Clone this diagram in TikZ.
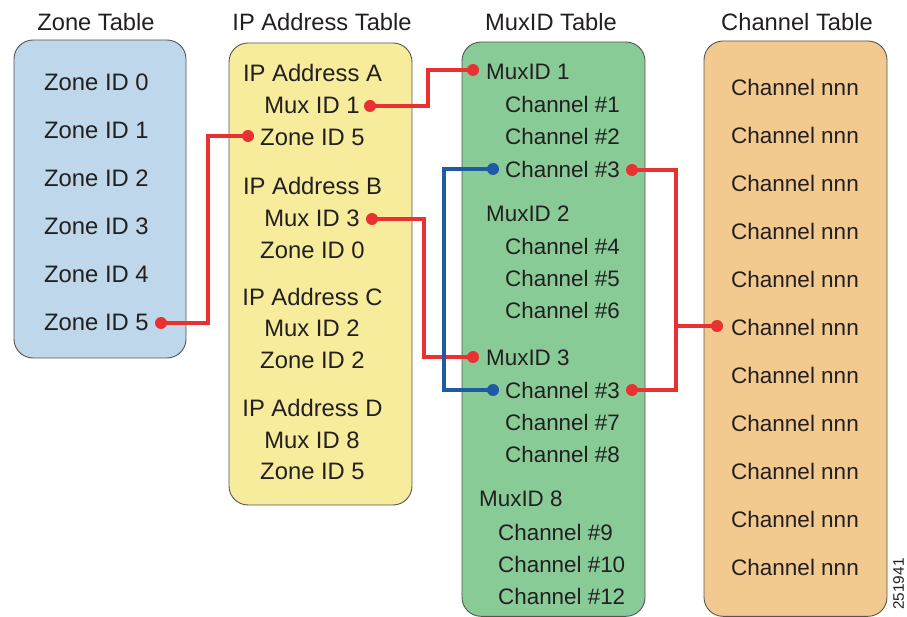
\documentclass[tikz,border=0pt]{standalone}
\usepackage{fontspec}
\setmainfont{Liberation Sans}
\definecolor{zonefill}{RGB}{190,215,234}
\definecolor{ipfill}{RGB}{247,236,155}
\definecolor{muxfill}{RGB}{136,203,151}
\definecolor{chanfill}{RGB}{242,201,142}
\definecolor{linkred}{RGB}{232,49,48}
\definecolor{linkblue}{RGB}{32,90,163}
\definecolor{edge}{RGB}{85,85,85}
\definecolor{ink}{RGB}{35,31,32}
\begin{document}
\begin{tikzpicture}[x=1pt,y=-1pt,
  tablebox/.style={draw=edge,line width=0.9pt,rounded corners=19pt},
  title/.style={font=\fontsize{23.7}{27}\selectfont,text=ink,inner sep=0pt},
  bigentry/.style={font=\fontsize{23.8}{27}\selectfont,text=ink,inner sep=0pt},
  entry/.style={font=\fontsize{22.4}{26}\selectfont,text=ink,inner sep=0pt,anchor=west},
  centry/.style={font=\fontsize{22.5}{26}\selectfont,text=ink,inner sep=0pt},
  dotr/.style={circle,fill=linkred,inner sep=0pt,minimum size=12pt},
  dotb/.style={circle,fill=linkblue,inner sep=0pt,minimum size=12pt},
  redlink/.style={draw=linkred,line width=3.8pt},
  bluelink/.style={draw=linkblue,line width=3.8pt}]
\useasboundingbox (0,0) rectangle (907,617);

% table frames
\filldraw[tablebox,fill=zonefill] (14,40) rectangle (186,358);
\filldraw[tablebox,fill=ipfill] (229,43) rectangle (412,505);
\filldraw[tablebox,fill=muxfill] (462,42) rectangle (645,616.3);
\filldraw[tablebox,fill=chanfill] (704,41) rectangle (887,616.3);

% titles
\node[title] (tz) at (96,22) {Zone Table};
\node[title] (tip) at (322,22) {IP Address Table};
\node[title] (tmux) at (551,22) {MuxID Table};
\node[title] (tch) at (797,22) {Channel Table};

% zone table entries
\foreach \i/\y in {0/82,1/130,2/178,3/226,4/274,5/322}
  \node[bigentry,anchor=west] (z\i) at (44,\y) {Zone ID \i};

% IP address table entries
\node[bigentry] (ipa) at (312.5,73) {IP Address A};
\node[bigentry] (ipam) at (312,105) {Mux ID 1};
\node[bigentry] (ipaz) at (312.5,137) {Zone ID 5};
\node[bigentry] (ipb) at (312.5,186) {IP Address B};
\node[bigentry] (ipbm) at (312,218) {Mux ID 3};
\node[bigentry] (ipbz) at (312.5,250) {Zone ID 0};
\node[bigentry] (ipc) at (312.5,297) {IP Address C};
\node[bigentry] (ipcm) at (312,328) {Mux ID 2};
\node[bigentry] (ipcz) at (312.5,360) {Zone ID 2};
\node[bigentry] (ipd) at (312.5,408) {IP Address D};
\node[bigentry] (ipdm) at (312,440) {Mux ID 8};
\node[bigentry] (ipdz) at (312.5,471) {Zone ID 5};

% MuxID table entries
\node[entry] (m1) at (486,72) {MuxID 1};
\node[entry] (m1a) at (505,104) {Channel \#1};
\node[entry] (m1b) at (505,136) {Channel \#2};
\node[entry] (m1c) at (505,169) {Channel \#3};
\node[entry] (m2) at (486,214) {MuxID 2};
\node[entry] (m2a) at (505,246) {Channel \#4};
\node[entry] (m2b) at (505,278) {Channel \#5};
\node[entry] (m2c) at (505,310) {Channel \#6};
\node[entry] (m3) at (486,358) {MuxID 3};
\node[entry] (m3a) at (505,390) {Channel \#3};
\node[entry] (m3b) at (505,422) {Channel \#7};
\node[entry] (m3c) at (505,454) {Channel \#8};
\node[entry] (m8) at (479,499) {MuxID 8};
\node[entry] (m8a) at (498,532) {Channel \#9};
\node[entry] (m8b) at (498,564) {Channel \#10};
\node[entry] (m8c) at (498,596) {Channel \#12};

% channel table entries
\foreach \k/\y in {1/87,2/135,3/183,4/231,5/279,6/327,7/375,8/423,9/471,10/519,11/567}
  \node[centry] (c\k) at (795,\y) {Channel nnn};

% figure number
\node[font=\fontsize{15.3}{18}\selectfont,text=ink,rotate=90,inner sep=0pt] (fig) at (898.5,584) {251941};

% link end points
\node[dotr] (dz5) at (161,323) {};
\node[dotr] (dipaz) at (248,136) {};
\node[dotr] (dipam) at (370,106) {};
\node[dotr] (dm1) at (473,70) {};
\node[dotr] (dipbm) at (372,219) {};
\node[dotr] (dm3) at (473,357) {};
\node[dotb] (dm1cl) at (493,169) {};
\node[dotb] (dm3al) at (493,390) {};
\node[dotr] (dm1cr) at (632,170) {};
\node[dotr] (dm3ar) at (632,390) {};
\node[dotr] (dc6) at (717,326) {};
\coordinate (bus) at (676,326);

% links
\draw[redlink] (dz5.center) -| (208,136) -- (dipaz.center);
\draw[redlink] (dipam.center) -| (428,70) -- (dm1.center);
\draw[redlink] (dipbm.center) -| (424,357) -- (dm3.center);
\draw[bluelink] (dm1cl.center) -| (444,390) -- (dm3al.center);
\draw[redlink] (dm1cr.center) -| (bus) |- (dm3ar.center);
\draw[redlink] (bus) -- (dc6.center);
\end{tikzpicture}
\end{document}
